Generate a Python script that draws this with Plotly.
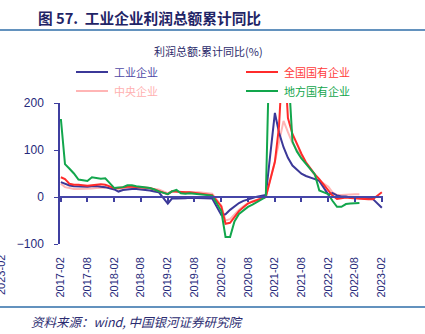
import plotly.graph_objects as go

# ---------------- data ----------------
years = [2017, 2018, 2019, 2020, 2021, 2022]
months = [f"{y}-{m:02d}-01" for y in years for m in range(2, 13)] + ["2023-02-01"]

industrial = [  # 工业企业
    31.5, 28.3, 24.4, 22.7, 22.0, 21.6, 21.6, 22.8, 23.3, 21.9, 21.0,
    16.1, 11.6, 15.0, 16.5, 17.2, 17.1, 16.2, 14.7, 13.6, 11.8, 10.3,
    -14.0, -3.3, -3.4, -2.3, -2.4, -1.7, -1.7, -2.1, -2.9, -2.1, -3.3,
    -38.3, -36.7, -27.4, -19.3, -12.8, -8.1, -4.4, -2.4, 0.7, 2.4, 4.1,
    178.9, 137.3, 106.0, 83.4, 66.9, 57.3, 49.5, 44.7, 42.2, 38.0, 34.3,
    5.0, 8.5, 3.5, 1.0, 1.0, -1.1, -2.1, -2.3, -3.0, -3.6, -4.0,
    -22.9,
]
national_soe = [  # 全国国有企业
    42, 38, 28, 26, 26, 25, 24, 25, 26, 27, 26,
    19, 19, 21, 22, 22, 21, 21, 20, 19, 16, 13,
    6, 12, 11, 10, 10, 10, 9, 8, 7, 5, 4,
    -20, -57, -55, -42, -30, -22, -14, -10, -7, -3, 0,
    75, 150, 330, 168, 134, 112, 92, 74, 60, 48, 38,
    15, 3, -4, -3, -1, -2, -3, -3, -4, -5, -5,
    10,
]
central_soe = [  # 中央企业
    28, 21, 19, 17, 17, 17, 18, 18, 19, 19, 20,
    17, 17, 19, 20, 20, 20, 20, 19, 18, 17, 16,
    8, 12, 11, 11, 10, 11, 10, 10, 9, 8, 7,
    -18, -50, -47, -37, -27, -20, -13, -9, -6, -3, 0,
    75, 120, 162, 138, 115, 100, 88, 72, 58, 46, 35,
    22, 10, 4, 4, 5, 6, 6, 6, None, None, None,
    None,
]
local_soe = [  # 地方国有企业
    166, 70, 60, 50, 37, 35, 34, 42, 40, 39, 40,
    19, 20, 21, 25, 25, 23, 22, 21, 19, 16, 12,
    6, 12, 15, 8, 7, 8, 7, 6, 5, 4, 3,
    -30, -85, -85, -52, -36, -28, -21, -16, -11, -6, 0,
    800, 600, 450, 283, 118, 97, 82, 70, 60, 48, 14,
    6, -8, -21, -21, -15, -14, -14, -13, None, None, None,
    None,
]

tick_dates = ["2017-02-01", "2017-08-01", "2018-02-01", "2018-08-01", "2019-02-01",
              "2019-08-01", "2020-02-01", "2020-08-01", "2021-02-01", "2021-08-01",
              "2022-02-01", "2022-08-01", "2023-02-01"]
tick_labels = ["2017-02", "2017-08", "2018-02", "2018-08", "2019-02", "2019-08",
               "2020-02", "2020-08", "2021-02", "2021-08", "2022-02", "2022-08", "2023-02"]

series_names = ["工业企业", "全国国有企业", "中央企业", "地方国有企业"]
colors = ["#3B3898", "#FF2B2B", "#FFB5B5", "#12A64C"]
text_colors = ["#4E4AA6", "#FF3A3A", "#FFB0B0", "#12A64C"]

# ---------------- layout helpers ----------------
W, H = 425, 334
L, R, T, B = 60, 42, 103, 90
PW, PH = W - L - R, H - T - B

def px_x(p):
    return (p - L) / PW

def px_y(p):
    return (H - B - p) / PH

NAVY = "#26297A"
FONT = "Arial, 'Liberation Sans', 'Noto Sans CJK SC', sans-serif"
CJK = "'Noto Sans CJK SC', sans-serif"

fig = go.Figure()

data = [industrial, national_soe, central_soe, local_soe]
draw_order = [2, 0, 1, 3]
for i in draw_order:
    fig.add_trace(go.Scatter(
        x=months, y=data[i], mode="lines", name=series_names[i],
        line=dict(color=colors[i], width=2), connectgaps=False, showlegend=False,
    ))

# dummy trace for the zero-crossing axis
fig.add_trace(go.Scatter(x=[months[0]], y=[0], xaxis="x2", mode="lines",
                         showlegend=False, line=dict(width=0), hoverinfo="skip"))

xr = ["2017-01-26", "2023-02-09"]
fig.update_layout(
    width=W, height=H,
    margin=dict(l=L, r=R, t=T, b=B, pad=0, autoexpand=False),
    paper_bgcolor="white", plot_bgcolor="white",
    font=dict(family=FONT, color=NAVY, size=11),
    showlegend=False,
    xaxis=dict(
        type="date", range=xr, tickvals=tick_dates, ticktext=tick_labels,
        tickangle=-90, showline=False, ticks="", showgrid=False, zeroline=False,
        tickfont=dict(family=FONT, size=11, color=NAVY), ticklabelstandoff=10,
        automargin=False,
    ),
    xaxis2=dict(
        type="date", range=xr, overlaying="x", matches="x", anchor="free",
        position=(0 - (-100)) / 300,
        tickvals=tick_dates, showticklabels=False, ticks="outside", ticklen=4,
        tickcolor="#3F3FA0", tickwidth=1.5,
        showline=True, linecolor="#4646A8", linewidth=2, showgrid=False, zeroline=False,
    ),
    yaxis=dict(
        range=[-100, 200], tickvals=[-100, 0, 100, 200], showgrid=False, zeroline=False,
        showline=True, linecolor="#3F3FA0", linewidth=1.5, ticks="outside", ticklen=4,
        tickcolor="#3F3FA0", tickfont=dict(family=FONT, size=12, color=NAVY),
        ticklabelstandoff=8, automargin=False,
    ),
)

annotations = [
    dict(text="<b>图 57.  工业企业利润总额累计同比</b>", x=px_x(36), y=px_y(17),
         xanchor="left", yanchor="middle",
         font=dict(family=CJK, size=14.7, color="#1F2466")),
    dict(text="利润总额:累计同比(%)", x=px_x(208), y=px_y(51),
         xanchor="center", yanchor="middle",
         font=dict(family=CJK, size=11, color="#2B2B6B")),
    dict(text="资料来源：wind, 中国银河证券研究院", x=px_x(29), y=px_y(321),
         xanchor="left", yanchor="middle",
         font=dict(family=CJK, size=12.5, color="#2B2B70", style="italic")),
    dict(text="2023-02", x=px_x(1), y=px_y(275), textangle=-90,
         xanchor="center", yanchor="middle",
         font=dict(family=FONT, size=11, color=NAVY)),
]

shapes = [
    dict(type="line", xref="paper", yref="paper", x0=px_x(0), x1=px_x(425),
         y0=px_y(30), y1=px_y(30), line=dict(color="#2F6EA8", width=1.5)),
    dict(type="line", xref="paper", yref="paper", x0=px_x(0), x1=px_x(425),
         y0=px_y(307), y1=px_y(307), line=dict(color="#2F6EA8", width=1.5)),
]

# manual two-column legend
legend_pos = [(76, 72), (246, 72), (76, 91), (246, 91)]  # 工业, 全国, 中央, 地方
for i, (lx, ly) in enumerate(legend_pos):
    shapes.append(dict(type="line", xref="paper", yref="paper",
                       x0=px_x(lx), x1=px_x(lx + 32), y0=px_y(ly), y1=px_y(ly),
                       line=dict(color=colors[i], width=2)))
    annotations.append(dict(text=series_names[i], x=px_x(lx + 36), y=px_y(ly),
                            xanchor="left", yanchor="middle",
                            font=dict(family=CJK, size=11, color=text_colors[i])))

for a in annotations:
    a["xref"] = "paper"
    a["yref"] = "paper"
    a["showarrow"] = False
fig.update_layout(annotations=annotations, shapes=shapes)

fig.write_html("out.html")
